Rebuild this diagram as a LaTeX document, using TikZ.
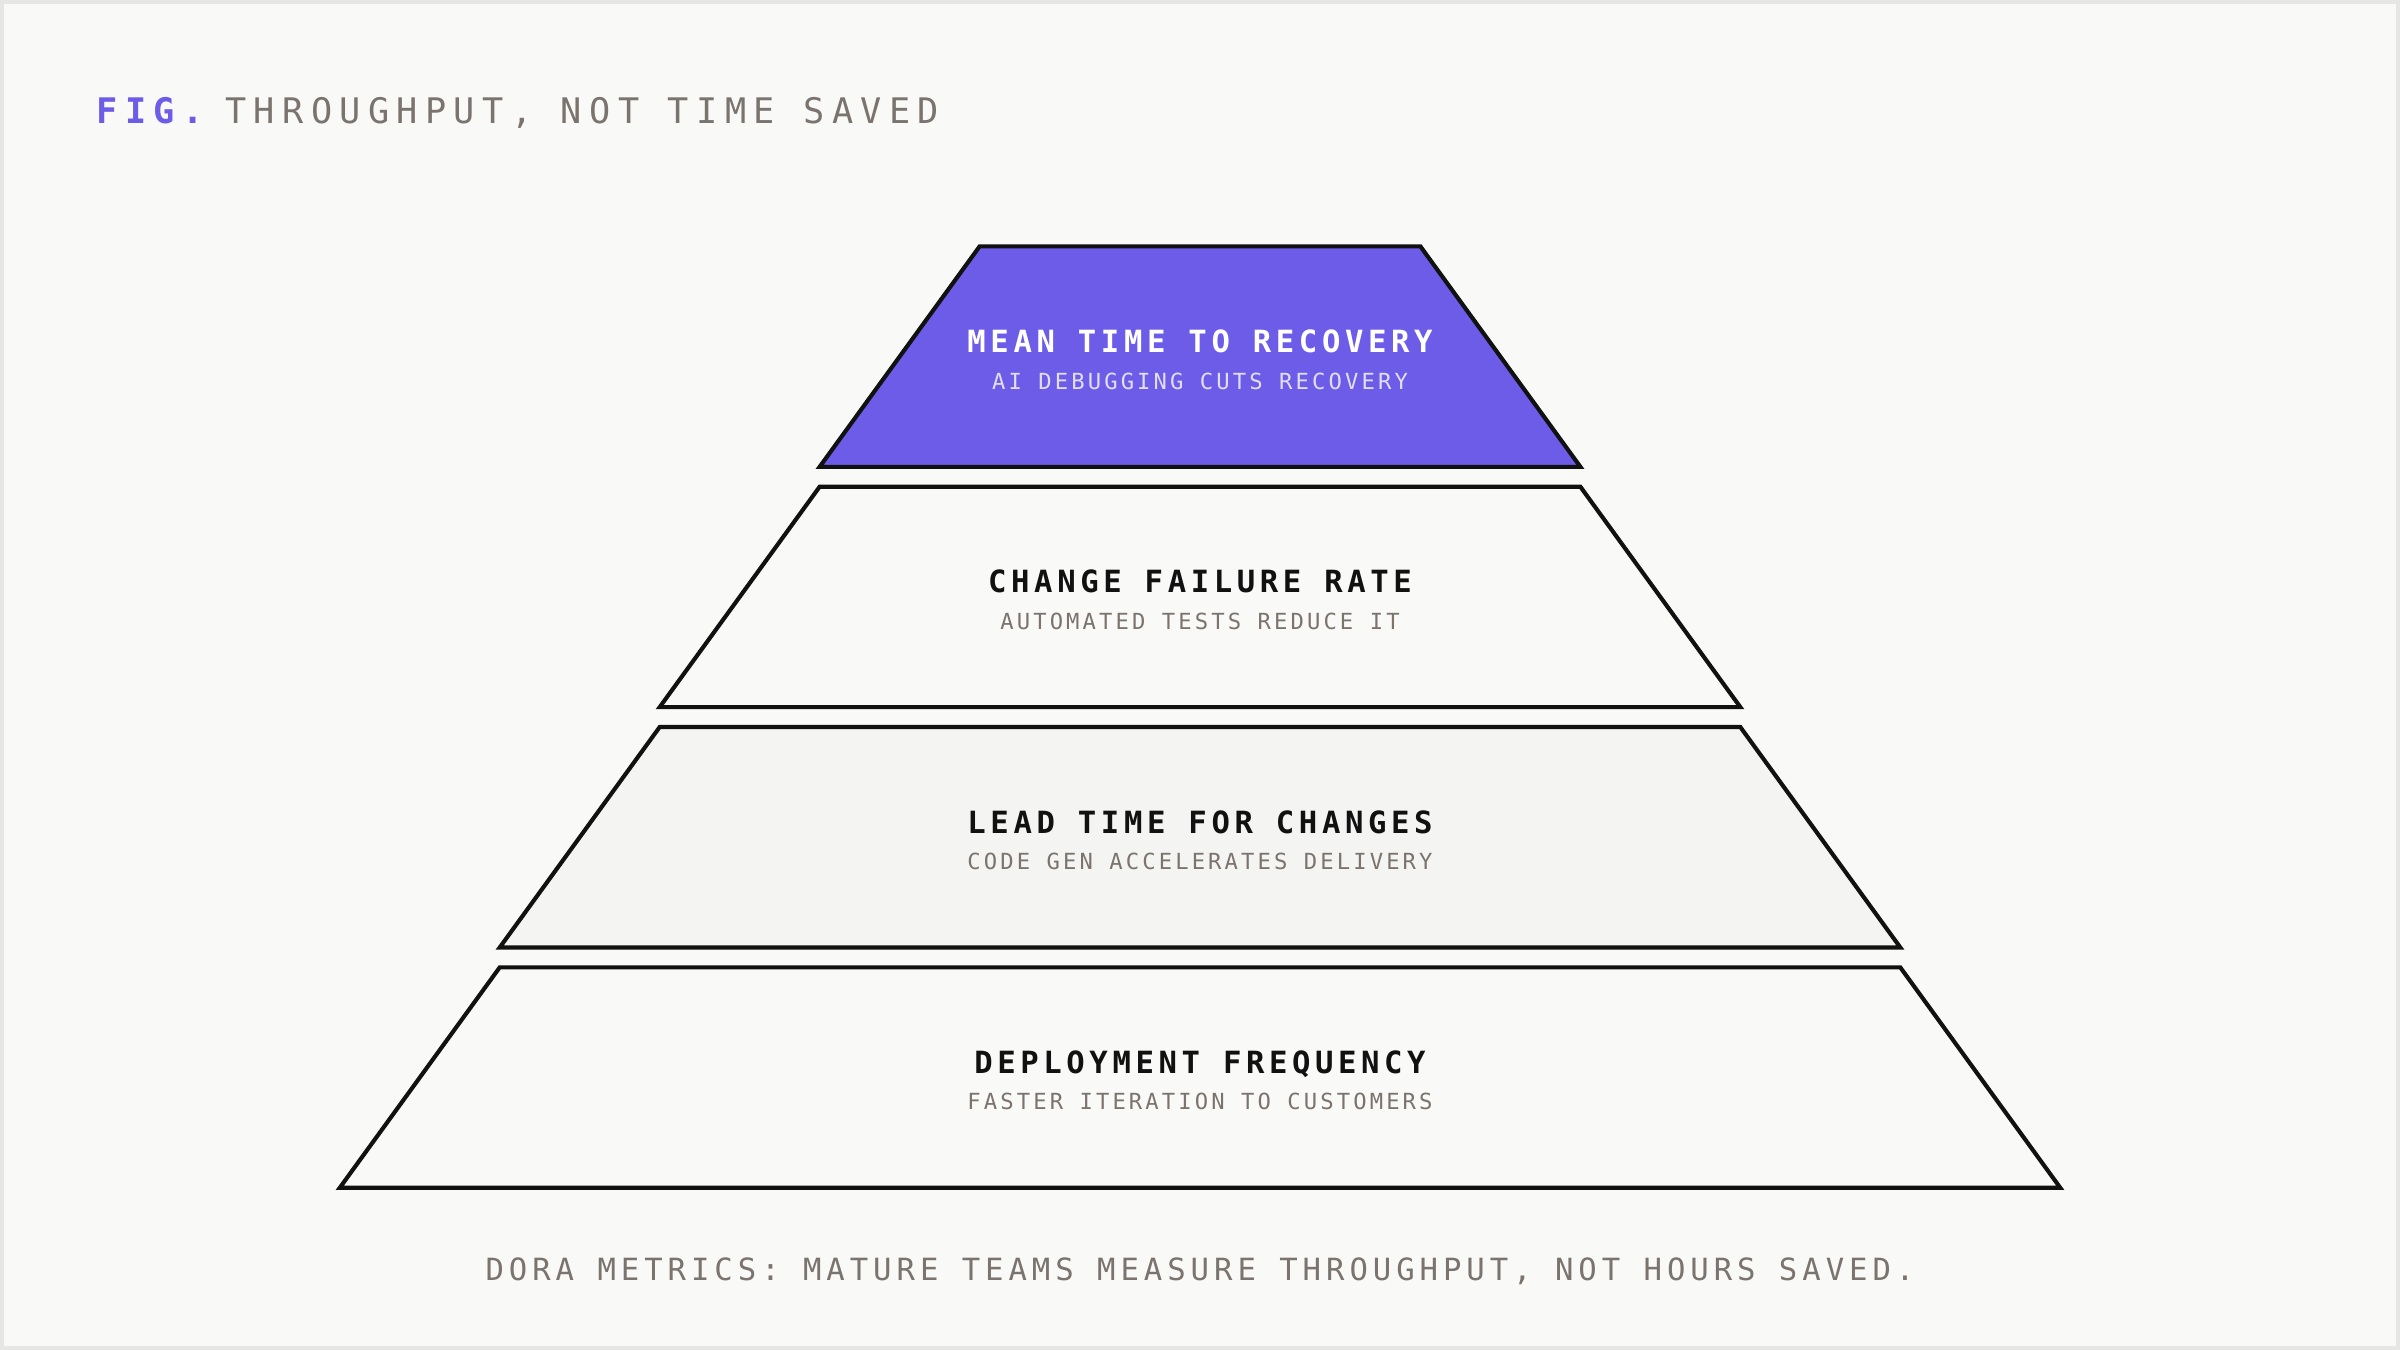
\documentclass[tikz,border=0pt]{standalone}
\usepackage{fontspec}
\usepackage{xcolor}
\usetikzlibrary{positioning}
\newfontfamily\titlef[LetterSpace=21]{DejaVu Sans Mono}
\newfontfamily\headf[LetterSpace=15]{DejaVu Sans Mono}
\newfontfamily\subf[LetterSpace=14]{DejaVu Sans Mono}
\newfontfamily\footf[LetterSpace=16.2]{DejaVu Sans Mono}
\definecolor{paper}{RGB}{249,249,247}
\definecolor{frame}{RGB}{230,230,228}
\definecolor{ink}{RGB}{17,17,17}
\definecolor{muted}{RGB}{122,115,110}
\definecolor{violet}{RGB}{108,92,231}
\definecolor{lilac}{RGB}{226,222,248}
\definecolor{shade}{RGB}{244,244,242}

\begin{document}
\begin{tikzpicture}[x=1pt, y=1pt,
    layer/.style={draw=ink, line width=2.7pt},
    head/.style={font=\fontsize{20}{24}\headf\bfseries, inner sep=0pt, anchor=base},
    sub/.style={font=\fontsize{14.5}{17}\subf, inner sep=0pt, anchor=base}]
    % page and frame
    \fill[frame] (0,0) rectangle (1568,882);
    \fill[paper] (2.4,2.4) rectangle (1565.6,879.6);
    \useasboundingbox (0,0) rectangle (1568,882);

    \node[font=\fontsize{23}{27}\titlef\bfseries, text=violet, inner sep=0pt, anchor=base west] (fig) at (63,801) {FIG.};
    \node[font=\fontsize{23}{27}\titlef, text=muted, inner sep=0pt, anchor=base west] (caption) at (147,801) {THROUGHPUT, NOT TIME SAVED};

    % pyramid layers, top to bottom
    \foreach \i/\fc/\hc/\sc/\nm/\hd/\sb in {
        0/violet/white/lilac/mttr/MEAN TIME TO RECOVERY/AI DEBUGGING CUTS RECOVERY,
        1/paper/ink/muted/cfr/CHANGE FAILURE RATE/AUTOMATED TESTS REDUCE IT,
        2/shade/ink/muted/lead/LEAD TIME FOR CHANGES/CODE GEN ACCELERATES DELIVERY,
        3/paper/ink/muted/deploy/DEPLOYMENT FREQUENCY/FASTER ITERATION TO CUSTOMERS}{
        \pgfmathsetmacro\ytop{882-161-157*\i}
        \pgfmathsetmacro\ybot{\ytop-144}
        \pgfmathsetmacro\wtop{144+104.5*\i}
        \pgfmathsetmacro\wbot{\wtop+104.5}
        \draw[layer, fill=\fc] (784-\wtop,\ytop) -- (784+\wtop,\ytop) -- (784+\wbot,\ybot) -- (784-\wbot,\ybot) -- cycle;
        \node[head, text=\hc] (\nm) at (784,\ytop-69.3) {\hd};
        \node[sub, text=\sc] (\nm-sub) at (784,\ytop-93.2) {\sb};
    }

    \node[font=\fontsize{20}{24}\footf, text=muted, inner sep=0pt, anchor=base] (footer) at (784,45.7) {DORA METRICS: MATURE TEAMS MEASURE THROUGHPUT, NOT HOURS SAVED.};
\end{tikzpicture}
\end{document}
